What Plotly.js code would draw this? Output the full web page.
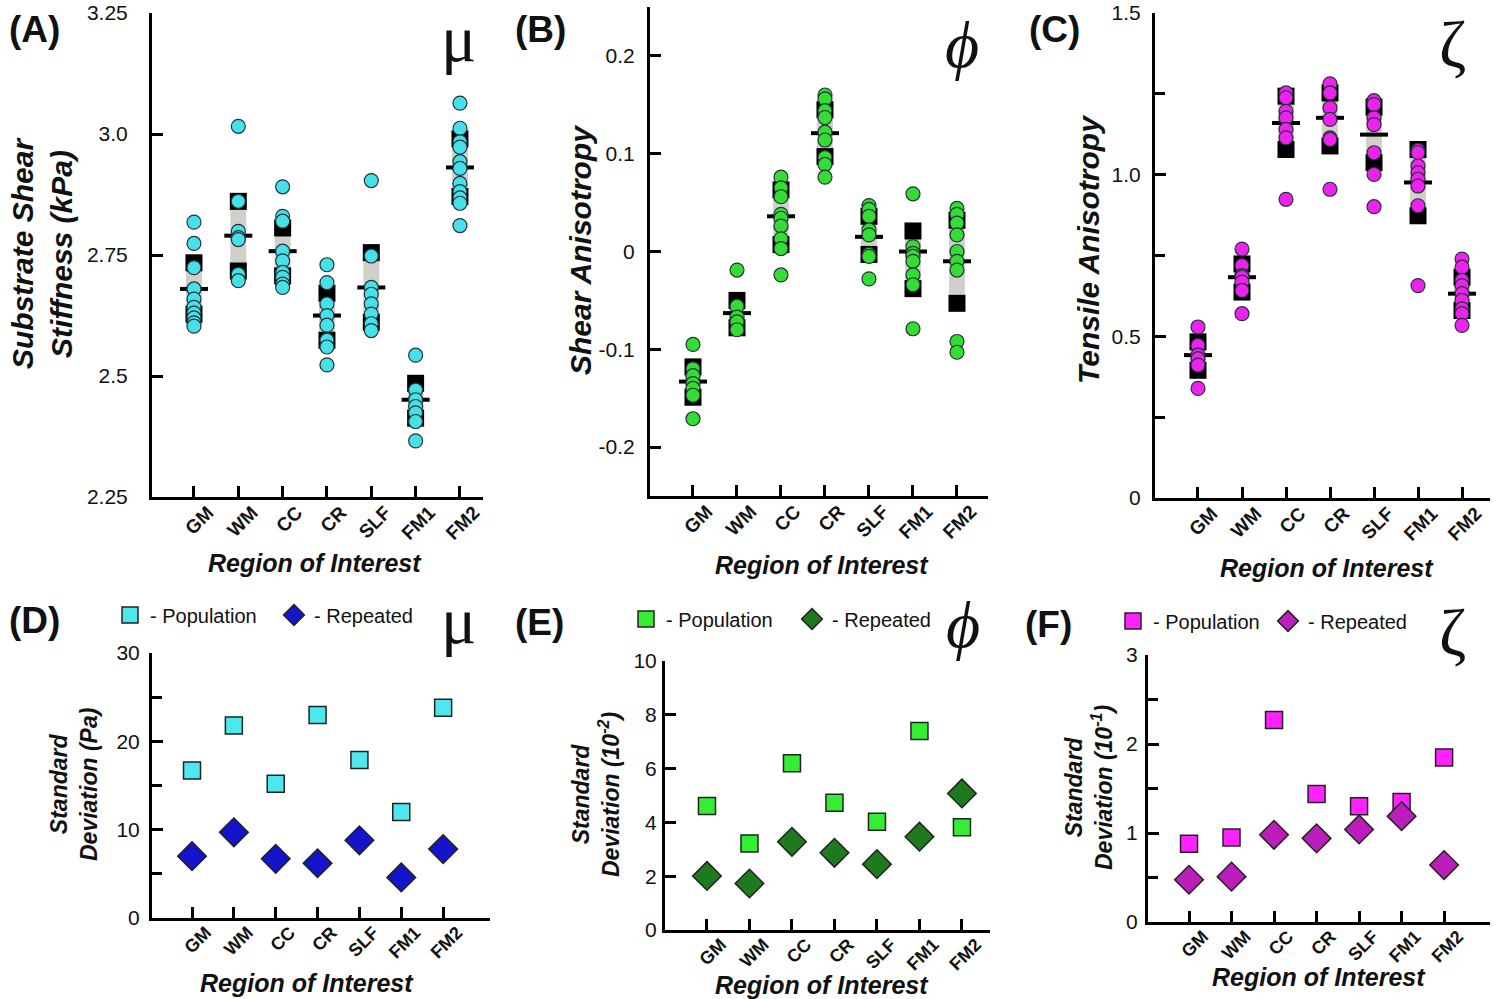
<!DOCTYPE html>
<html><head><meta charset="utf-8">
<script src="https://cdn.plot.ly/plotly-3.0.1.min.js"></script>
<style>html,body{margin:0;padding:0;background:#fff;} #chart{width:1500px;height:999px;}</style>
</head><body><div id="chart"></div>
<script>
// ---------- data ----------
const regions = ['GM','WM','CC','CR','SLF','FM1','FM2'];

// Panel A: substrate shear stiffness mu (kPa)
const muPop = [
  [2.818, 2.774, 2.724, 2.680, 2.659, 2.642, 2.630, 2.620, 2.610, 2.603],
  [3.016, 2.861, 2.799, 2.786, 2.782, 2.710, 2.697],
  [2.891, 2.830, 2.820, 2.758, 2.738, 2.714, 2.704, 2.690, 2.683],
  [2.730, 2.693, 2.649, 2.625, 2.605, 2.574, 2.560, 2.523],
  [2.904, 2.748, 2.683, 2.669, 2.649, 2.628, 2.608, 2.594],
  [2.543, 2.471, 2.451, 2.437, 2.424, 2.406, 2.366],
  [3.064, 3.012, 2.984, 2.973, 2.943, 2.929, 2.898, 2.881, 2.868, 2.857, 2.811]
];
const muRep = [[2.734, 2.628],[2.861, 2.717],[2.806, 2.707],[2.671, 2.574],[2.755, 2.611],[2.485, 2.413],[2.990, 2.871]];
const muMean = [2.680, 2.790, 2.758, 2.625, 2.683, 2.451, 2.931];

// Panel B: shear anisotropy phi
const phiPop = [
  [-0.095, -0.120, -0.127, -0.135, -0.140, -0.147, -0.171],
  [-0.019, -0.056, -0.067, -0.072, -0.080],
  [0.076, 0.065, 0.056, 0.038, 0.034, 0.026, 0.013, 0.003, -0.024],
  [0.160, 0.156, 0.144, 0.137, 0.122, 0.114, 0.096, 0.089, 0.076],
  [0.047, 0.043, 0.036, 0.022, 0.017, -0.003, -0.005, -0.028],
  [0.059, 0.005, -0.002, -0.005, -0.010, -0.024, -0.034, -0.079],
  [0.044, 0.038, 0.029, 0.017, 0.000, -0.010, -0.019, -0.092, -0.103]
];
const phiRep = [[-0.118, -0.149],[-0.050, -0.078],[0.063, 0.007],[0.145, 0.097],[0.036, -0.003],[0.021, -0.038],[0.032, -0.053]];
const phiMean = [-0.133, -0.063, 0.036, 0.121, 0.015, 0.000, -0.010];

// Panel C: tensile anisotropy zeta
const zetaPop = [
  [0.529, 0.472, 0.442, 0.431, 0.411, 0.339],
  [0.770, 0.719, 0.688, 0.683, 0.668, 0.642, 0.570],
  [1.253, 1.238, 1.196, 1.176, 1.140, 1.114, 0.924],
  [1.281, 1.253, 1.207, 1.171, 1.114, 1.109, 0.955],
  [1.229, 1.217, 1.176, 1.155, 1.068, 1.001, 0.901],
  [1.075, 1.068, 1.027, 1.006, 0.986, 0.965, 0.904, 0.657],
  [0.739, 0.714, 0.673, 0.657, 0.632, 0.611, 0.585, 0.570, 0.534]
];
const zetaRep = [[0.483, 0.395],[0.724, 0.637],[1.243, 1.078],[1.253, 1.089],[1.209, 1.037],[1.078, 0.873],[0.683, 0.580]];
const zetaMean = [0.442, 0.683, 1.160, 1.176, 1.124, 0.976, 0.632];

// Panels D-F: standard deviations
const muSDpop = [16.7, 21.8, 15.2, 23.0, 17.9, 12.0, 23.8];
const muSDrep = [7.0, 9.7, 6.7, 6.2, 8.8, 4.6, 7.8];
const phiSDpop = [4.61, 3.22, 6.20, 4.73, 4.03, 7.40, 3.82];
const phiSDrep = [2.01, 1.73, 3.28, 2.87, 2.45, 3.47, 5.08];
const zetaSDpop = [0.88, 0.95, 2.27, 1.44, 1.30, 1.35, 1.85];
const zetaSDrep = [0.475, 0.51, 0.98, 0.94, 1.04, 1.19, 0.64];

// ---------- styling ----------
const SANS = 'Liberation Sans, Arial, Helvetica, sans-serif';
const SERIF = 'Liberation Serif, Times New Roman, DejaVu Serif, serif';
const GRAY = '#d0d0cb';
const idx = regions.map((_, i) => i);

function topTraces(pop, rep, mean, color, xa, ya) {
  const base = rep.map(r => Math.min(...r));
  const h = rep.map(r => Math.max(...r) - Math.min(...r));
  const sx = [], sy = [], cx = [], cy = [];
  rep.forEach((r, i) => r.forEach(v => { sx.push(i); sy.push(v); }));
  pop.forEach((r, i) => r.forEach(v => { cx.push(i); cy.push(v); }));
  return [
    {type:'bar', x: idx, y: h, base: base, width: 0.36, marker:{color: GRAY, line:{width:0}},
     xaxis: xa, yaxis: ya, showlegend:false, hoverinfo:'skip'},
    {type:'scatter', mode:'markers', x: sx, y: sy, marker:{symbol:'square', size:17, color:'#000'},
     xaxis: xa, yaxis: ya, showlegend:false},
    {type:'scatter', mode:'markers', x: idx, y: mean,
     marker:{symbol:'line-ew', size:20, line:{width:4, color:'#000'}},
     xaxis: xa, yaxis: ya, showlegend:false},
    {type:'scatter', mode:'markers', x: cx, y: cy,
     marker:{symbol:'circle', size:14, color: color, line:{width:1.2, color:'#263238'}},
     xaxis: xa, yaxis: ya, showlegend:false}
  ];
}

function botTraces(pop, rep, cSq, cDi, xa, ya, lg) {
  return [
    {type:'scatter', mode:'markers', name:'- Population', x: idx, y: pop,
     marker:{symbol:'square', size:17, color:cSq, line:{width:1.5, color:'#222'}},
     xaxis: xa, yaxis: ya, legend: lg},
    {type:'scatter', mode:'markers', name:'- Repeated', x: idx, y: rep,
     marker:{symbol:'diamond', size:22, color:cDi, line:{width:1.5, color:'#222'}},
     xaxis: xa, yaxis: ya, legend: lg}
  ];
}

const data = [].concat(
  topTraces(muPop, muRep, muMean, '#46e0e8', 'x', 'y'),
  topTraces(phiPop, phiRep, phiMean, '#33dd33', 'x2', 'y2'),
  topTraces(zetaPop, zetaRep, zetaMean, '#ee22ee', 'x3', 'y3'),
  botTraces(muSDpop, muSDrep, '#4ce8ee', '#1414cc', 'x4', 'y4', 'legend'),
  botTraces(phiSDpop, phiSDrep, '#33ee33', '#1e7a1e', 'x5', 'y5', 'legend2'),
  botTraces(zetaSDpop, zetaSDrep, '#ff22ff', '#bb1ebb', 'x6', 'y6', 'legend3')
);

const W = 1500, H = 999;
function xd(a, b) { return [a / W, b / W]; }
function yd(top, bot) { return [1 - bot / H, 1 - top / H]; }

function xAxis(dom, range, anchor, fs) {
  return {domain: dom, range: range, anchor: anchor, tickmode:'array', tickvals: idx, ticktext: regions,
    tickangle: -45, ticks:'inside', ticklen: 11, tickwidth: 3, tickcolor:'#000',
    ticklabelstandoff: -6, ticklabelshift: 14, ticklabeloverflow:'allow',
    showline: true, linewidth: 3, linecolor:'#000', showgrid:false, zeroline:false,
    tickfont:{family: SANS, size: fs, color:'#111', weight:'bold'}, fixedrange:true};
}
function yAxis(dom, range, anchor, vals, text, standoff, minorVals) {
  const a = {domain: dom, range: range, anchor: anchor, tickmode:'array', tickvals: vals, ticktext: text,
    ticks:'inside', ticklen: 11, tickwidth: 3, tickcolor:'#000', ticklabelstandoff: standoff,
    ticklabeloverflow:'allow',
    showline: true, linewidth: 3, linecolor:'#000', showgrid:false, zeroline:false,
    tickfont:{family: SANS, size: 21, color:'#111'}, fixedrange:true};
  if (minorVals) a.minor = {tickmode:'array', tickvals: minorVals, ticks:'inside', ticklen: 10,
    tickwidth: 3, tickcolor:'#000', showgrid:false};
  return a;
}

const ann = [];
function txt(x, y, text, size, opts) {
  ann.push(Object.assign({xref:'paper', yref:'paper', x: x / W, y: 1 - y / H, text: text, showarrow:false,
    xanchor:'center', yanchor:'middle', font:{family: SANS, size: size, color:'#111'}}, opts || {}));
}
// panel letters
[['(A)',7,30],['(B)',513,30],['(C)',1027,30],['(D)',7,620],['(E)',513,622],['(F)',1023,624]].forEach(p =>
  txt(p[1], p[2], '<b>' + p[0] + '</b>', 37, {xanchor:'left'}));
// Greek symbols
const greek = {family: SERIF, size: 66, color:'#111'};
txt(458, 38, 'μ', 66, {font: greek});
txt(962, 44, '<i>ϕ</i>', 66, {font: greek});
txt(1452, 44, 'ζ', 66, {font: greek});
txt(458, 620, 'μ', 66, {font: greek});
txt(963, 624, '<i>ϕ</i>', 66, {font: greek});
txt(1452, 632, 'ζ', 66, {font: greek});
// x titles
[[315,563],[822,565],[1327,568],[307,983],[822,985],[1319,977]].forEach(p =>
  txt(p[0], p[1], '<b><i>Region of Interest</i></b>', 25));
// y titles
txt(42, 253, '<b><i>Substrate Shear<br>Stiffness (kPa)</i></b>', 30, {textangle:-90});
txt(580, 250, '<b><i>Shear Anisotropy</i></b>', 30, {textangle:-90});
txt(1088, 250, '<b><i>Tensile Anisotropy</i></b>', 30, {textangle:-90});
txt(74, 785, '<b><i>Standard<br>Deviation (Pa)</i></b>', 23, {textangle:-90});
txt(596, 795, '<b><i>Standard<br>Deviation (10<sup>-2</sup>)</i></b>', 23, {textangle:-90});
txt(1089, 788, '<b><i>Standard<br>Deviation (10<sup>-1</sup>)</i></b>', 23, {textangle:-90});

function legendCfg(x, y, ew) {
  return {orientation:'h', x: x / W, xanchor:'left', y: 1 - y / H, yanchor:'middle',
    font:{family: SANS, size: 20, color:'#111'}, bgcolor:'rgba(0,0,0,0)', borderwidth:0,
    entrywidth: ew, entrywidthmode:'pixels', itemclick:false, itemdoubleclick:false, traceorder:'normal'};
}

const layout = {
  width: W, height: H, autosize:false, margin:{l:0, r:0, t:0, b:0},
  paper_bgcolor:'#fff', plot_bgcolor:'rgba(0,0,0,0)', barmode:'overlay', showlegend:true,
  font:{family: SANS},
  xaxis:  xAxis(xd(152, 483), [-0.947, 6.52], 'y', 19),
  yaxis:  yAxis(yd(13, 497), [2.25, 3.2502], 'x', [2.25, 2.5, 2.75, 3.0, 3.25], ['2.25','2.5','2.75','3.0','3.25'], 17),
  xaxis2: xAxis(xd(650, 988), [-0.977, 6.705], 'y2', 19),
  yaxis2: yAxis(yd(7, 496), [-0.25, 0.25], 'x2', [-0.2, -0.1, 0, 0.1, 0.2], ['-0.2','-0.1','0','0.1','0.2'], 8),
  xaxis3: xAxis(xd(1155, 1490), [-0.977, 6.636], 'y3', 19),
  yaxis3: yAxis(yd(13, 498), [0, 1.5002], 'x3', [0, 0.5, 1.0, 1.5], ['0','0.5','1.0','1.5'], 7, [0.25, 0.75, 1.25]),
  xaxis4: xAxis(xd(152, 490), [-0.956, 7.12], 'y4', 18),
  yaxis4: yAxis(yd(653, 918), [0, 30.01], 'x4', [0, 10, 20, 30], ['0','10','20','30'], 5, [5, 15, 25]),
  xaxis5: xAxis(xd(665, 990), [-0.988, 6.66], 'y5', 18),
  yaxis5: yAxis(yd(661, 930), [0, 10.005], 'x5', [0, 2, 4, 6, 8, 10], ['0','2','4','6','8','10'], 1),
  xaxis6: xAxis(xd(1148, 1490), [-0.965, 7.08], 'y6', 18),
  yaxis6: yAxis(yd(655, 922), [0, 3.001], 'x6', [0, 1, 2, 3], ['0','1','2','3'], 3, [0.5, 1.5, 2.5]),
  legend: legendCfg(110, 615, 119),
  legend2: legendCfg(626, 619, 121),
  legend3: legendCfg(1113, 621, 110),
  annotations: ann
};

Plotly.newPlot('chart', data, layout, {displayModeBar:false, staticPlot:true});
</script></body></html>
